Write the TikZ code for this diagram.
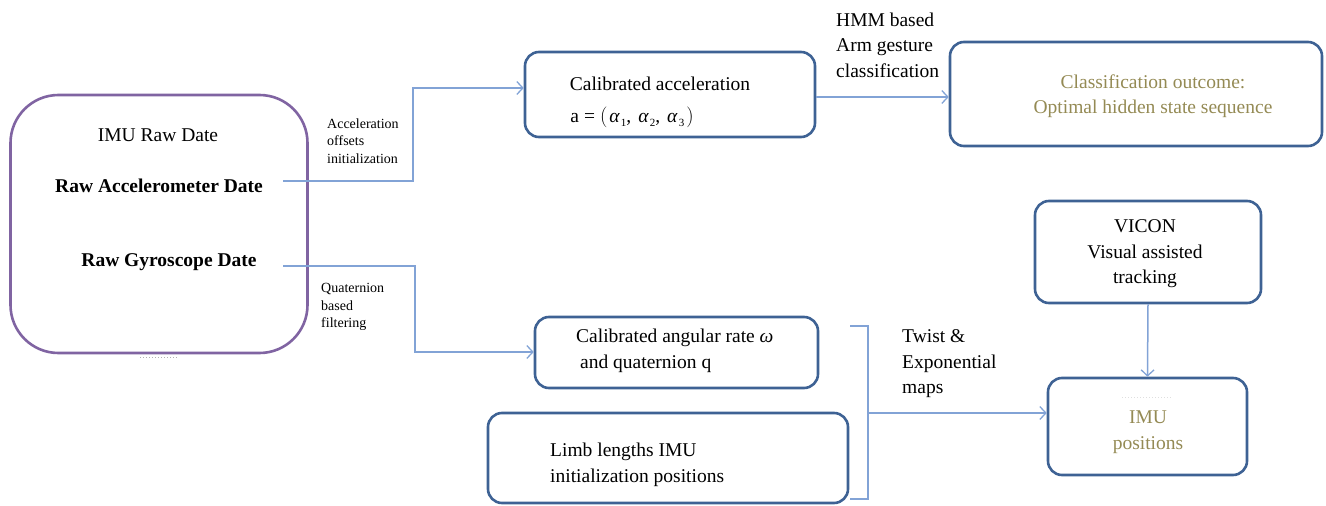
\documentclass[tikz,border=0pt]{standalone}
\usepackage{fontspec}
\setmainfont{Liberation Serif}
\usetikzlibrary{arrows.meta}
\definecolor{boxblue}{RGB}{62,98,148}
\definecolor{lineblue}{RGB}{130,163,214}
\definecolor{purpleb}{RGB}{128,100,162}
\definecolor{olive}{RGB}{148,138,84}
\tikzset{
  box/.style={draw=boxblue, line width=2.6pt, rounded corners=14pt, inner sep=0pt},
  rawbox/.style={draw=purpleb, line width=2.6pt, rounded corners=48pt, inner sep=0pt},
  conn/.style={draw=lineblue, line width=1.5pt},
  arr/.style={conn, -{Straight Barb[length=6pt,width=13pt,line width=1.3pt]}},
  main/.style={font=\fontsize{19.5}{25.5}\selectfont, inner sep=0pt},
  small/.style={font=\fontsize{14}{17.5}\selectfont, inner sep=0pt, align=left},
}
\newcommand{\galpha}[1]{\textit{α}\kern1pt\raisebox{-4pt}{\fontsize{11}{11}\selectfont #1}}
\begin{document}
\begin{tikzpicture}[x=1pt,y=-1pt]
\useasboundingbox (0,0) rectangle (1326,506);
% boxes
\node[rawbox, minimum width=297pt, minimum height=258pt] (raw) at (159,224) {};
\node[box, minimum width=290pt, minimum height=85pt] (cal) at (670,94.5) {};
\node[box, minimum width=372pt, minimum height=104pt] (cls) at (1136,94) {};
\node[box, minimum width=283pt, minimum height=71pt] (ang) at (676.5,352.5) {};
\node[box, minimum width=360pt, minimum height=90pt] (limb) at (668,458) {};
\node[box, minimum width=226pt, minimum height=102pt] (vicon) at (1148,252) {};
\node[box, minimum width=199pt, minimum height=97pt] (imu) at (1147.5,426.5) {};
% texts
\node[main] (timuraw) at (158,135) {IMU Raw Date};
\node[main] (tacc) at (159,186) {\textbf{Raw Accelerometer Date}};
\node[main] (tgyr) at (169,262) {\textbf{Raw Gyroscope Date}};
\node[small, anchor=west] (lacc) at (327,141) {Acceleration\\offsets\\initialization};
\node[small, anchor=west] (lquat) at (321,307) {Quaternion\\based\\filtering};
\node[main] (tcal1) at (660,84) {Calibrated acceleration};
\node[main] (tcal2) at (632,117) {a\hspace{5pt}=\hspace{5pt}$\Bigl($\kern2pt\galpha{1},\hspace{7pt}\galpha{2},\hspace{7pt}\galpha{3}\kern2pt$\Bigr)$};
\node[main, align=left, anchor=west] (lhmm) at (836,45) {HMM based\\Arm gesture\\classification};
\node[main, align=center, text=olive] (tcls) at (1153,96) {Classification outcome:\\Optimal hidden state sequence};
\node[main, align=left, anchor=west] (tang) at (576,351) {Calibrated angular rate \textit{ω}\\\hspace{4pt}and quaternion q};
\node[main, align=left, anchor=west] (tlimb) at (550,465) {Limb lengths IMU\\initialization positions};
\node[main, align=left, anchor=west] (ltwist) at (902,364) {Twist \&\\Exponential\\maps};
\node[main, align=center] (tvicon) at (1145,254) {VICON\\Visual assisted\\tracking};
\node[main, align=center, text=olive] (timupos) at (1148,432) {IMU\\positions};
% connector points
\coordinate (accout) at (283,181);
\coordinate (accbend1) at (413,181);
\coordinate (gyrout) at (283,266);
\coordinate (gyrbend1) at (415,266);
\coordinate (brtopl) at (850,326);
\coordinate (brtop) at (868,326);
\coordinate (brbot) at (868,499);
\coordinate (brbotl) at (850,499);
\coordinate (brmid) at (868,413);
% connectors
\draw[arr] (accout) -- (accbend1) |- (cal.west |- 0,88);
\draw[arr] (cal.east |- 0,97) -- (cls.west |- 0,97);
\draw[arr] (gyrout) -- (gyrbend1) |- (ang.west |- 0,352);
\draw[conn] (brtopl) -- (brtop) -- (brbot) -- (brbotl);
\draw[arr] (brmid) -- (imu.west |- brmid);
\draw[arr] (vicon.south) -- (imu.north);
% faint artefacts
\draw[gray!60, line width=1pt, dotted] (140,357) -- (178,357);
\draw[gray!25, line width=1pt, dotted] (1122,397) -- (1172,397);
\end{tikzpicture}
\end{document}
